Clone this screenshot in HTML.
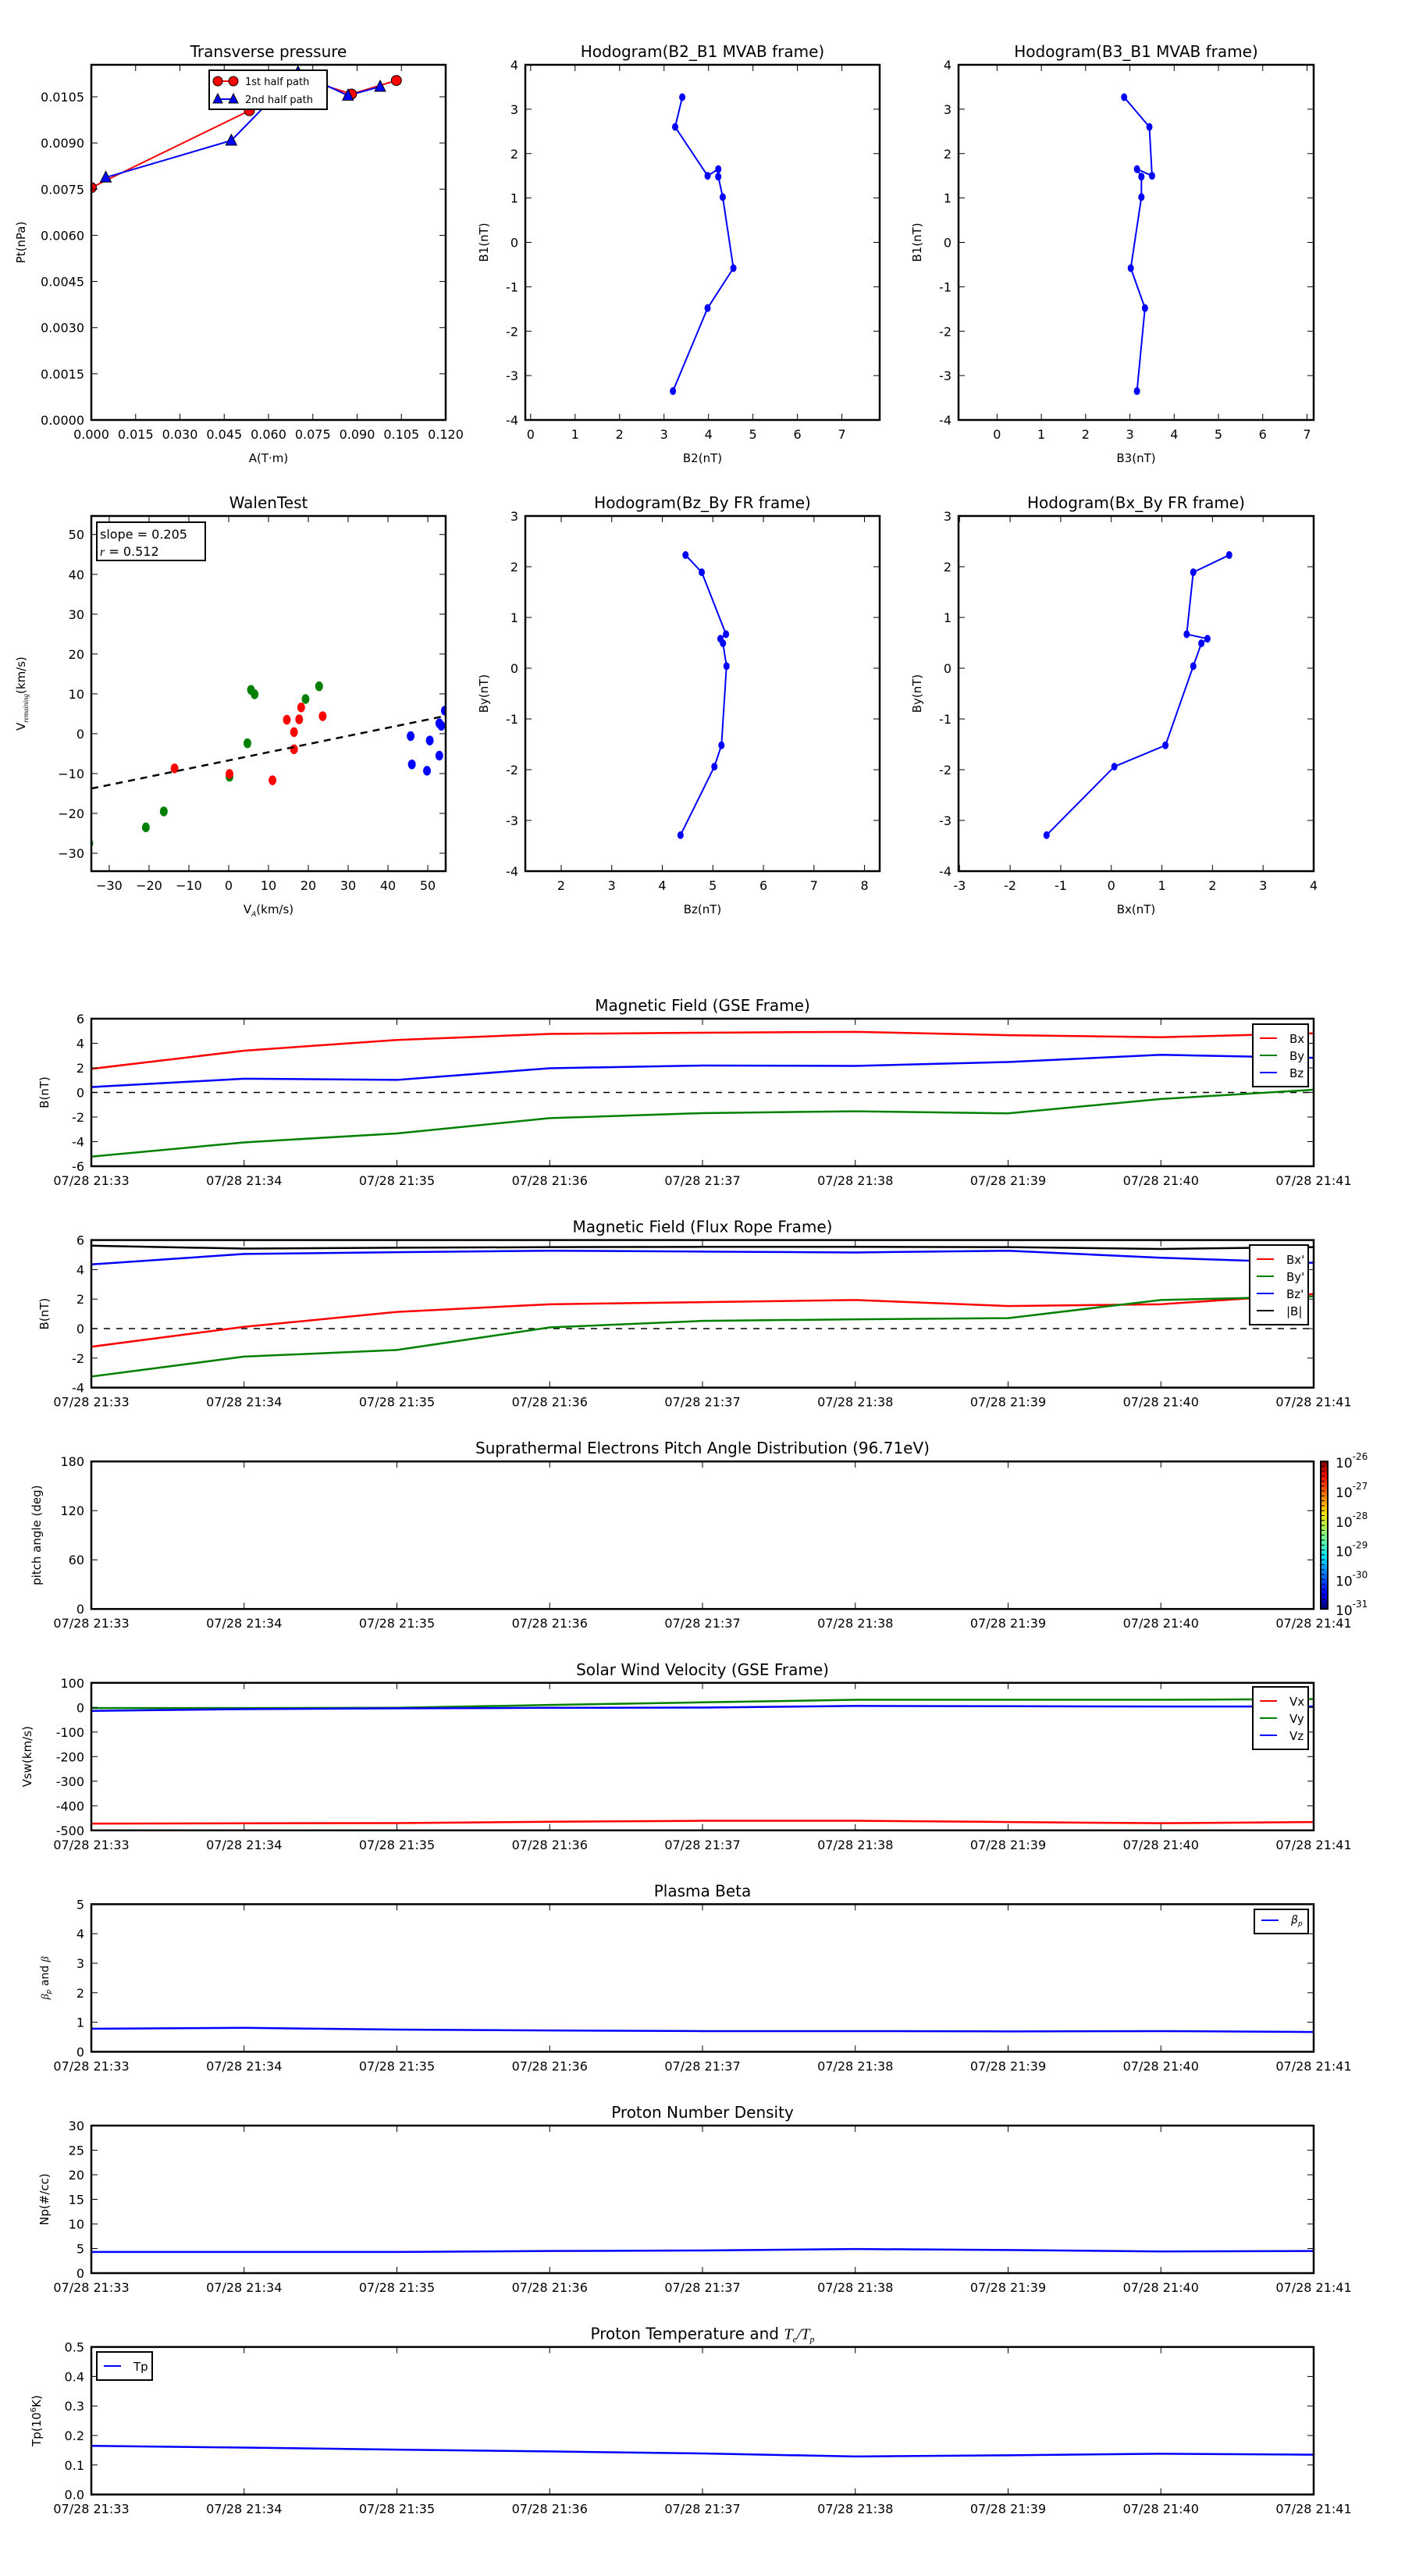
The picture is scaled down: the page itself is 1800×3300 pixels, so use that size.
<!DOCTYPE html>
<html><head><meta charset="utf-8">
<style>
html,body{margin:0;padding:0;background:#fff;}
svg{display:block;}
text{font-family:"DejaVu Sans","Liberation Sans",sans-serif;fill:#000;}
</style></head>
<body>
<svg id="fig" xmlns="http://www.w3.org/2000/svg" width="1800" height="3300" viewBox="0 0 1800 3300">
<defs>
<linearGradient id="jet" x1="0" y1="1" x2="0" y2="0">
<stop offset="0" stop-color="#00007f"/><stop offset="0.11" stop-color="#0000ff"/><stop offset="0.35" stop-color="#00e0ff"/>
<stop offset="0.5" stop-color="#7fff7f"/><stop offset="0.65" stop-color="#ffe000"/><stop offset="0.89" stop-color="#ff1000"/><stop offset="1" stop-color="#7f0000"/>
</linearGradient>
</defs>
</svg>
<script>
// ---------- data ----------
const tpA1=[0.0,0.0535,0.068,0.0881,0.1033];
const tpP1=[0.00755,0.01005,0.0112,0.01059,0.01103];
const tpA2=[0.0049,0.0474,0.070,0.0869,0.0978];
const tpP2=[0.00788,0.00908,0.0113,0.01054,0.01083];

const h1B2=[3.41,3.25,3.98,4.22,4.22,4.32,4.56,3.98,3.20];
const h1B1=[3.27,2.60,1.50,1.65,1.48,1.02,-0.58,-1.48,-3.35];
const h2B3=[2.87,3.44,3.50,3.16,3.26,3.26,3.02,3.34,3.16];
const h2B1=[3.27,2.60,1.50,1.65,1.48,1.02,-0.58,-1.48,-3.35];

const walGreenX=[5.6,6.5,22.7,19.3,4.7,0.2,-16.3,-20.8,-35];
const walGreenY=[11.0,9.9,11.9,8.7,-2.4,-10.8,-19.5,-23.5,-27.5];
const walRedX=[18.2,14.6,17.7,23.6,16.4,16.4,-13.6,0.2,11.0];
const walRedY=[6.6,3.5,3.6,4.4,0.4,-3.9,-8.7,-10.1,-11.7];
const walBlueX=[45.7,50.5,52.9,52.9,53.4,54.3,46.0,49.8];
const walBlueY=[-0.6,-1.7,-5.5,2.6,2.0,5.8,-7.7,-9.3];
const walSlope=0.205, walIntercept=-6.7;

const h3Bz=[4.46,4.78,5.26,5.15,5.20,5.27,5.17,5.03,4.36];
const h3By=[2.23,1.89,0.67,0.58,0.49,0.04,-1.52,-1.94,-3.29];
const h4Bx=[2.33,1.62,1.49,1.90,1.78,1.62,1.07,0.06,-1.28];
const h4By=[2.23,1.89,0.67,0.58,0.49,0.04,-1.52,-1.94,-3.29];

const timeLabels=["07/28 21:33","07/28 21:34","07/28 21:35","07/28 21:36","07/28 21:37","07/28 21:38","07/28 21:39","07/28 21:40","07/28 21:41"];
const gseBx=[1.92,3.40,4.27,4.76,4.86,4.93,4.66,4.49,4.81];
const gseBy=[-5.22,-4.06,-3.33,-2.09,-1.68,-1.53,-1.70,-0.53,0.22];
const gseBz=[0.44,1.12,1.02,1.97,2.19,2.16,2.48,3.06,2.82];
const frBx=[-1.23,0.12,1.13,1.65,1.79,1.94,1.53,1.65,2.34];
const frBy=[-3.25,-1.90,-1.45,0.08,0.52,0.63,0.71,1.94,2.18];
const frBz=[4.35,5.06,5.18,5.28,5.22,5.16,5.28,4.80,4.46];
const frB=[5.62,5.42,5.48,5.52,5.54,5.54,5.52,5.40,5.52];
const vx=[-472.5,-471.4,-470.4,-465,-461,-461,-466,-471,-466];
const vy=[-2.6,-2.6,-1.6,10,20.6,31,31,31,34];
const vz=[-14,-7,-4,-1.6,-0.5,6,5,3.7,3.7];
const betaP=[0.78,0.81,0.75,0.72,0.70,0.70,0.69,0.70,0.67];
const np=[4.3,4.3,4.3,4.5,4.6,4.9,4.7,4.4,4.5];
const tp=[0.165,0.159,0.152,0.146,0.139,0.129,0.133,0.138,0.135];
const cbLabels=["-26","-27","-28","-29","-30","-31"];

// ---------- helpers ----------
const NS='http://www.w3.org/2000/svg';
const svg=document.getElementById('fig');
function mk(tag,attrs,parent){const e=document.createElementNS(NS,tag);for(const k in attrs)e.setAttribute(k,attrs[k]);(parent||svg).appendChild(e);return e;}
function txt(s,x,y,size,anchor,parent,extra){const t=mk('text',Object.assign({x:x,y:y,'font-size':size,'text-anchor':anchor||'middle'},extra||{}),parent);t.textContent=s;return t;}
function lin(a,b,c,d){return (v)=>c+(v-a)*(d-c)/(b-a);}
let clipN=0;
function axes(name,L,T,W,H,xmin,xmax,ymin,ymax){
  const g=mk('g',{});
  
  
  const id='clip'+(clipN++);
  const cp=mk('clipPath',{id:id},g);mk('rect',{x:L,y:T,width:W,height:H},cp);
  const plot=mk('g',{'clip-path':'url(#'+id+')'},g);
  return {g:g,plot:plot,L:L,T:T,W:W,H:H,sx:lin(xmin,xmax,L,L+W),sy:lin(ymin,ymax,T+H,T)};
}
function frame(a,xticks,xlabels,yticks,ylabels){
  const g=a.g;
  for(let i=0;i<xticks.length;i++){const x=a.sx(xticks[i]);
    mk('line',{x1:x,y1:a.T+a.H,x2:x,y2:a.T+a.H-8,stroke:'#000','stroke-width':1},g);
    mk('line',{x1:x,y1:a.T,x2:x,y2:a.T+8,stroke:'#000','stroke-width':1},g);
    if(xlabels){const t=txt(xlabels[i],x,a.T+a.H+24,16,'middle',g);
      
      }}
  for(let i=0;i<yticks.length;i++){const y=a.sy(yticks[i]);
    mk('line',{x1:a.L,y1:y,x2:a.L+8,y2:y,stroke:'#000','stroke-width':1},g);
    mk('line',{x1:a.L+a.W,y1:y,x2:a.L+a.W-8,y2:y,stroke:'#000','stroke-width':1},g);
    if(ylabels){const t=txt(ylabels[i],a.L-9,y+6,16,'end',g);
      
      }}
  const r=mk('rect',{x:a.L,y:a.T,width:a.W,height:a.H,fill:'none',stroke:'#000','stroke-width':2.5},g);
  
  
}
function title(a,s){const t=txt(s,a.L+a.W/2,a.T-10,20,'middle',a.g);
  
  return t;}
function ylab(a,s,x){const t=txt(s,x,a.T+a.H/2,15,'middle',a.g,{transform:'rotate(-90 '+x+' '+(a.T+a.H/2)+')'});
  
  return t;}
function xlab(a,s){const t=txt(s,a.L+a.W/2,a.T+a.H+54,15,'middle',a.g);
  
  return t;}
function poly(a,xs,ys,color,w,name){let p='';for(let i=0;i<xs.length;i++)p+=a.sx(xs[i])+','+a.sy(ys[i])+' ';
  const e=mk('polyline',{points:p,fill:'none',stroke:color,'stroke-width':w,'stroke-linejoin':'round'},a.plot);
  
  return e;}
function dots(a,xs,ys,color,r,name,stroke){for(let i=0;i<xs.length;i++){
  const c=mk('ellipse',{cx:a.sx(xs[i]),cy:a.sy(ys[i]),rx:r,ry:r*1.25,fill:color,stroke:stroke||'none'},a.plot);
  
  }}
function range(a,b,s){const r=[];for(let v=a;v<=b+1e-9;v+=s)r.push(+v.toFixed(6));return r;}
function legend(a,x,y,w,entries,name){const h=entries.length*22+14;
  const g=mk('g',{},a.g);
  
  
  mk('rect',{x:x,y:y,width:w,height:h,fill:'#fff',stroke:'#000','stroke-width':2},g);
  entries.forEach((en,i)=>{const yy=y+18+i*22;
    mk('line',{x1:x+9,y1:yy,x2:x+31,y2:yy,stroke:en[1],'stroke-width':2},g);
    const t=txt(en[0],x+47,yy+6,15,'start',g);
    
    });
  return g;}

// ---------- Transverse pressure ----------
{const a=axes('transverse-pressure-chart',117,83,454,455,0,0.12,0,0.01154);
 poly(a,tpA1,tpP1.map((v,i)=>v),'#ff0000',2,'first-half-path-line');
 // red path order
 poly(a,tpA2,tpP2,'#0000ff',2,'second-half-path-line');
 for(let i=0;i<tpA1.length;i++){const c=mk('circle',{cx:a.sx(tpA1[i]),cy:a.sy(tpP1[i]),r:6.5,fill:'#ff0000',stroke:'#000','stroke-width':1},a.plot);
   
   }
 for(let i=0;i<tpA2.length;i++){const x=a.sx(tpA2[i]),y=a.sy(tpP2[i]);
   const t=mk('polygon',{points:(x-7)+','+(y+6)+' '+(x+7)+','+(y+6)+' '+x+','+(y-8),fill:'#0000ff',stroke:'#000','stroke-width':1},a.plot);
   
   }
 const xt=range(0,0.12,0.015);
 const yt=range(0,0.0105,0.0015);
 frame(a,xt,xt.map(v=>v.toFixed(3)),yt,yt.map(v=>v.toFixed(4)));
 title(a,'Transverse pressure');ylab(a,'Pt(nPa)',32);xlab(a,'A(T·m)');
 const lg=mk('g',{},a.g);
 
 
 mk('rect',{x:268,y:90,width:151,height:50,fill:'#fff',stroke:'#000','stroke-width':2},lg);
 mk('line',{x1:279,y1:104,x2:299,y2:104,stroke:'#f00','stroke-width':2},lg);
 mk('circle',{cx:279,cy:104,r:6,fill:'#f00',stroke:'#000'},lg);mk('circle',{cx:299,cy:104,r:6,fill:'#f00',stroke:'#000'},lg);
 mk('line',{x1:279,y1:127,x2:299,y2:127,stroke:'#00f','stroke-width':2},lg);
 mk('polygon',{points:'273,132 285,132 279,120',fill:'#00f',stroke:'#000'},lg);mk('polygon',{points:'293,132 305,132 299,120',fill:'#00f',stroke:'#000'},lg);
 let t=txt('1st half path',314,109,13,'start',lg);
 
 
 t=txt('2nd half path',314,132,13,'start',lg);
 
 
}
// ---------- Hodogram B2_B1 ----------
{const a=axes('hodogram-b2-b1-chart',673,83,454,455,-0.12,7.85,-4,4);
 poly(a,h1B2,h1B1,'#0000ff',2,'hodogram-line');dots(a,h1B2,h1B1,'#0000ff',4,'hodogram-point');
 const xt=range(0,7,1),yt=range(-4,4,1);
 frame(a,xt,xt.map(String),yt,yt.map(String));
 title(a,'Hodogram(B2_B1 MVAB frame)');ylab(a,'B1(nT)',625);xlab(a,'B2(nT)');}
// ---------- Hodogram B3_B1 ----------
{const a=axes('hodogram-b3-b1-chart',1228,83,455,455,-0.87,7.15,-4,4);
 poly(a,h2B3,h2B1,'#0000ff',2,'hodogram-line');dots(a,h2B3,h2B1,'#0000ff',4,'hodogram-point');
 const xt=range(0,7,1),yt=range(-4,4,1);
 frame(a,xt,xt.map(String),yt,yt.map(String));
 title(a,'Hodogram(B3_B1 MVAB frame)');ylab(a,'B1(nT)',1180);xlab(a,'B3(nT)');}
// ---------- Walen test ----------
{const a=axes('walen-test-chart',117,661,454,455,-34.5,54.5,-34.5,54.65);
 dots(a,walGreenX,walGreenY,'#008000',5,'walen-point-green');
 dots(a,walRedX,walRedY,'#ff0000',5,'walen-point-red');
 dots(a,walBlueX,walBlueY,'#0000ff',5,'walen-point-blue');
 const fit=mk('line',{x1:a.sx(-34.5),y1:a.sy(walIntercept+walSlope*-34.5),x2:a.sx(54.5),y2:a.sy(walIntercept+walSlope*54.5),stroke:'#000','stroke-width':2.5,'stroke-dasharray':'9,7'},a.plot);
 
 
 const xt=range(-30,50,10),yt=range(-30,50,10);
 frame(a,xt,xt.map(v=>String(v).replace('-','−')),yt,yt.map(v=>String(v).replace('-','−')));
 title(a,'WalenTest');
 const yl=mk('text',{x:0,y:0,'font-size':15,'text-anchor':'middle',transform:'translate(32 '+(a.T+a.H/2)+') rotate(-90)'},a.g);
 
 
 yl.innerHTML='V<tspan font-size="9" dy="4" font-style="italic" font-family="Liberation Serif">remaining</tspan><tspan dy="-4">(km/s)</tspan>';
 const xl=mk('text',{x:a.L+a.W/2,y:a.T+a.H+54,'font-size':15,'text-anchor':'middle'},a.g);
 
 
 xl.innerHTML='V<tspan font-size="9" dy="4" font-style="italic">A</tspan><tspan dy="-4">(km/s)</tspan>';
 const lg=mk('g',{},a.g);
 
 
 mk('rect',{x:124,y:669,width:139,height:49,fill:'#fff',stroke:'#000','stroke-width':2},lg);
 txt('slope = 0.205',128,690,16,'start',lg);
 const r=mk('text',{x:128,y:712,'font-size':16},lg);r.innerHTML='<tspan font-style="italic" font-family="Liberation Serif">r</tspan> = 0.512';}
// ---------- Hodogram Bz_By ----------
{const a=axes('hodogram-bz-by-chart',673,661,454,455,1.29,8.3,-4,3);
 poly(a,h3Bz,h3By,'#0000ff',2,'hodogram-line');dots(a,h3Bz,h3By,'#0000ff',4,'hodogram-point');
 const xt=range(2,8,1),yt=range(-4,3,1);
 frame(a,xt,xt.map(String),yt,yt.map(String));
 title(a,'Hodogram(Bz_By FR frame)');ylab(a,'By(nT)',625);xlab(a,'Bz(nT)');}
// ---------- Hodogram Bx_By ----------
{const a=axes('hodogram-bx-by-chart',1228,661,455,455,-3.02,4,-4,3);
 poly(a,h4Bx,h4By,'#0000ff',2,'hodogram-line');dots(a,h4Bx,h4By,'#0000ff',4,'hodogram-point');
 const xt=range(-3,4,1),yt=range(-4,3,1);
 frame(a,xt,xt.map(String),yt,yt.map(String));
 title(a,'Hodogram(Bx_By FR frame)');ylab(a,'By(nT)',1180);xlab(a,'Bx(nT)');}

// ---------- time series ----------
const idx=timeLabels.map((_,i)=>i);
function ts(i,name,ymin,ymax){return axes(name,117,1305+283.6*i,1566,189,0,8,ymin,ymax);}
function zero(a){const l=mk('line',{x1:a.L,y1:a.sy(0),x2:a.L+a.W,y2:a.sy(0),stroke:'#000','stroke-width':1.5,'stroke-dasharray':'8,8'},a.plot);
 
 }
{const a=ts(0,'magnetic-field-gse-chart',-6,6);zero(a);
 poly(a,idx,gseBx,'#ff0000',2.5,'series-bx');poly(a,idx,gseBy,'#008000',2.5,'series-by');poly(a,idx,gseBz,'#0000ff',2.5,'series-bz');
 const yt=range(-6,6,2);frame(a,idx,timeLabels,yt,yt.map(String));
 title(a,'Magnetic Field (GSE Frame)');ylab(a,'B(nT)',62);
 legend(a,1605,1312,71,[['Bx','#ff0000'],['By','#008000'],['Bz','#0000ff']],'legend');}
{const a=ts(1,'magnetic-field-flux-rope-chart',-4,6);zero(a);
 poly(a,idx,frBx,'#ff0000',2.5,'series-bx-prime');poly(a,idx,frBy,'#008000',2.5,'series-by-prime');poly(a,idx,frBz,'#0000ff',2.5,'series-bz-prime');poly(a,idx,frB,'#000000',2.5,'series-b-magnitude');
 const yt=range(-4,6,2);frame(a,idx,timeLabels,yt,yt.map(String));
 title(a,'Magnetic Field (Flux Rope Frame)');ylab(a,'B(nT)',62);
 legend(a,1601,1595,75,[["Bx'",'#ff0000'],["By'",'#008000'],["Bz'",'#0000ff'],['|B|','#000000']],'legend');}
{const a=ts(2,'pitch-angle-distribution-chart',0,180);
 const yt=[0,60,120,180];frame(a,idx,timeLabels,yt,yt.map(String));
 title(a,'Suprathermal Electrons Pitch Angle Distribution (96.71eV)');ylab(a,'pitch angle (deg)',52);
 const cb=mk('g',{},svg);
 
 
 mk('rect',{x:1692,y:a.T,width:9,height:a.H,fill:'url(#jet)',stroke:'#000','stroke-width':2},cb);
 for(let k=1;k<30;k++){const y=a.T+a.H*k/30;mk('line',{x1:1692,y1:y,x2:1697,y2:y,stroke:'#000','stroke-width':1},cb);}
 cbLabels.forEach((s,k)=>{const y=a.T+a.H*k/5;const t=mk('text',{x:1711,y:y+8,'font-size':17},cb);t.innerHTML='10<tspan font-size="12" dy="-10">'+s+'</tspan>';
   
   });}
{const a=ts(3,'solar-wind-velocity-chart',-500,100);
 poly(a,idx,vx,'#ff0000',2.5,'series-vx');poly(a,idx,vy,'#008000',2.5,'series-vy');poly(a,idx,vz,'#0000ff',2.5,'series-vz');
 const yt=range(-500,100,100);frame(a,idx,timeLabels,yt,yt.map(String));
 title(a,'Solar Wind Velocity (GSE Frame)');ylab(a,'Vsw(km/s)',40);
 legend(a,1605,2161,71,[['Vx','#ff0000'],['Vy','#008000'],['Vz','#0000ff']],'legend');}
{const a=ts(4,'plasma-beta-chart',0,5);
 poly(a,idx,betaP,'#0000ff',2.5,'series-beta-p');
 const yt=range(0,5,1);frame(a,idx,timeLabels,yt,yt.map(String));
 title(a,'Plasma Beta');
 const yl=mk('text',{x:0,y:0,'font-size':14,'text-anchor':'middle',transform:'translate(62 '+(a.T+a.H/2)+') rotate(-90)'},a.g);
 
 
 yl.innerHTML='<tspan font-style="italic" font-family="Liberation Serif">β</tspan><tspan font-size="9" dy="3" font-style="italic">p</tspan><tspan dy="-3"> and </tspan><tspan font-style="italic" font-family="Liberation Serif">β</tspan>';
 const lg=mk('g',{},a.g);
 
 
 mk('rect',{x:1607,y:2446,width:69,height:31,fill:'#fff',stroke:'#000','stroke-width':2},lg);
 mk('line',{x1:1616,y1:2460,x2:1638,y2:2460,stroke:'#00f','stroke-width':2},lg);
 const t=mk('text',{x:1654,y:2464,'font-size':14,'font-style':'italic','font-family':'Liberation Serif'},lg);t.innerHTML='β<tspan font-size="9" dy="3">p</tspan>';}
{const a=ts(5,'proton-density-chart',0,30);
 poly(a,idx,np,'#0000ff',2.5,'series-np');
 const yt=range(0,30,5);frame(a,idx,timeLabels,yt,yt.map(String));
 title(a,'Proton Number Density');ylab(a,'Np(#/cc)',62);}
{const a=ts(6,'proton-temperature-chart',0,0.5);
 poly(a,idx,tp,'#0000ff',2.5,'series-tp');
 const yt=range(0,0.5,0.1);frame(a,idx,timeLabels,yt,yt.map(v=>v.toFixed(1)));
 const tt=mk('text',{x:a.L+a.W/2,y:a.T-10,'font-size':20,'text-anchor':'middle'},a.g);
 
 
 tt.innerHTML='Proton Temperature and <tspan font-style="italic" font-family="Liberation Serif">T</tspan><tspan font-size="12" dy="4" font-style="italic" font-family="Liberation Serif">e</tspan><tspan dy="-4" font-style="italic" font-family="Liberation Serif">/T</tspan><tspan font-size="12" dy="4" font-style="italic" font-family="Liberation Serif">p</tspan>';
 const yl=mk('text',{x:0,y:0,'font-size':15,'text-anchor':'middle',transform:'translate(52 '+(a.T+a.H/2)+') rotate(-90)'},a.g);
 
 
 yl.innerHTML='Tp(10<tspan font-size="10" dy="-6">6</tspan><tspan dy="6">K)</tspan>';
 legend(a,124,3013,71,[['Tp','#0000ff']],'legend');}
</script>
</body></html>
